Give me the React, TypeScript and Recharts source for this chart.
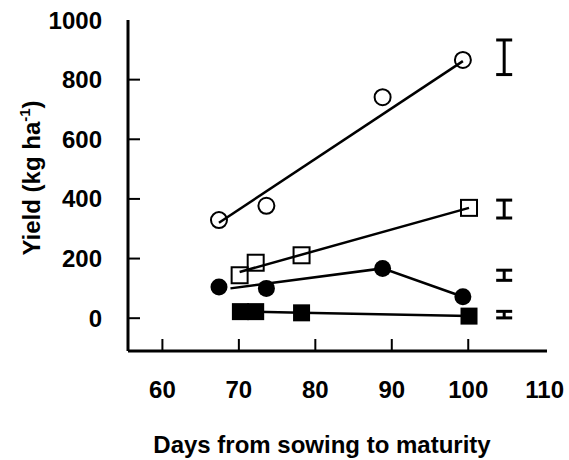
import { ComposedChart, ErrorBar, Scatter, XAxis, YAxis } from "recharts";

// days to maturity / yield (kg ha-1)
const openCircles = [
  { x: 67.4, y: 329 },
  { x: 73.6, y: 377 },
  { x: 88.8, y: 741 },
  { x: 99.3, y: 866 },
];
const openCircleFit = [
  { x: 67.4, y: 320 },
  { x: 99.3, y: 862 },
];

const openSquares = [
  { x: 70.1, y: 144 },
  { x: 72.2, y: 186 },
  { x: 78.2, y: 211 },
  { x: 100.1, y: 370 },
];
const openSquareFit = [
  { x: 70.1, y: 155 },
  { x: 100.1, y: 370 },
];

const filledCircles = [
  { x: 67.4, y: 105 },
  { x: 73.6, y: 100 },
  { x: 88.8, y: 167 },
  { x: 99.3, y: 72 },
];
const filledCircleFit = [
  { x: 68.9, y: 100 },
  { x: 88.8, y: 167 },
  { x: 99.3, y: 72 },
];

const filledSquares = [
  { x: 70.2, y: 22 },
  { x: 72.2, y: 22 },
  { x: 78.2, y: 18 },
  { x: 100.1, y: 7 },
];

// LSD bars at the right-hand side
const lsdBars = [
  { x: 104.7, y: 875, err: 58 },
  { x: 104.7, y: 366, err: 30 },
  { x: 104.7, y: 144, err: 17 },
  { x: 104.7, y: 12, err: 11 },
];

const xTicks = [60, 70, 80, 90, 100, 110];
const yTicks = [0, 200, 400, 600, 800, 1000];

const FONT = "'Liberation Sans', Arial, sans-serif";
const INK = "#000";

const openCircle = (p: any) => (
  <circle cx={p.cx} cy={p.cy} r={8} fill="none" stroke={INK} strokeWidth={2} />
);
const filledCircle = (p: any) => <circle cx={p.cx} cy={p.cy} r={8.5} fill={INK} />;
const openSquare = (p: any) => (
  <rect x={p.cx - 8} y={p.cy - 8} width={16} height={16} fill="none" stroke={INK} strokeWidth={2} />
);
const filledSquare = (p: any) => (
  <rect x={p.cx - 8.5} y={p.cy - 8.5} width={17} height={17} fill={INK} />
);
const noShape = () => <g />;

const XTick = (p: any) => {
  const v = p.payload.value;
  return (
    <g>
      {v !== 110 && <line x1={p.x} x2={p.x} y1={p.y} y2={p.y - 12} stroke={INK} strokeWidth={2} />}
      <text x={p.x} y={p.y + 47} textAnchor="middle" fontFamily={FONT} fontWeight="bold" fontSize={24} fill={INK}>
        {v}
      </text>
    </g>
  );
};

const YTick = (p: any) => {
  const v = p.payload.value;
  return (
    <g>
      {v !== 1000 && <line x1={p.x} x2={p.x + 12} y1={p.y} y2={p.y} stroke={INK} strokeWidth={2} />}
      <text x={p.x - 26} y={p.y + 8.5} textAnchor="end" fontFamily={FONT} fontWeight="bold" fontSize={24} fill={INK}>
        {v}
      </text>
    </g>
  );
};

const fitLine = { stroke: INK, strokeWidth: 2.5 };

export default function App() {
  return (
    <div style={{ position: "absolute", left: 0, top: 0, background: "#fff" }}>
      <ComposedChart
        width={569}
        height={460}
        margin={{ top: 20, right: 22, bottom: 0, left: 0 }}
      >
        <XAxis
          type="number"
          dataKey="x"
          domain={[55.5, 110.3]}
          ticks={xTicks}
          allowDataOverflow
          height={109}
          tickSize={0}
          tickMargin={0}
          tick={XTick}
          axisLine={{ stroke: INK, strokeWidth: 3 }}
          label={{
            content: () => (
              <text x={322} y={453} textAnchor="middle" fontFamily={FONT} fontWeight="bold" fontSize={24} fill={INK}>
                Days from sowing to maturity
              </text>
            ),
          }}
        />
        <YAxis
          type="number"
          dataKey="y"
          domain={[-110, 1000]}
          ticks={yTicks}
          allowDataOverflow
          width={128}
          tickSize={0}
          tickMargin={0}
          tick={YTick}
          axisLine={{ stroke: INK, strokeWidth: 3 }}
          label={{
            content: () => (
              <text
                transform="translate(40,178) rotate(-90)"
                textAnchor="middle"
                fontFamily={FONT}
                fontWeight="bold"
                fontSize={24}
                fill={INK}
              >
                Yield (kg ha
                <tspan fontSize={15} dy={-10}>-1</tspan>
                <tspan dy={10}>)</tspan>
              </text>
            ),
          }}
        />
        <Scatter data={openCircleFit} shape={noShape} line={fitLine} isAnimationActive={false} />
        <Scatter data={openSquareFit} shape={noShape} line={fitLine} isAnimationActive={false} />
        <Scatter data={filledCircleFit} shape={noShape} line={fitLine} isAnimationActive={false} />
        <Scatter data={filledSquares} shape={noShape} line={fitLine} isAnimationActive={false} />
        <Scatter data={openCircles} shape={openCircle} isAnimationActive={false} />
        <Scatter data={openSquares} shape={openSquare} isAnimationActive={false} />
        <Scatter data={filledCircles} shape={filledCircle} isAnimationActive={false} />
        <Scatter data={filledSquares} shape={filledSquare} isAnimationActive={false} />
        <Scatter data={lsdBars} shape={noShape} isAnimationActive={false}>
          <ErrorBar dataKey="err" direction="y" width={8} stroke={INK} strokeWidth={3} />
        </Scatter>
      </ComposedChart>
    </div>
  );
}
